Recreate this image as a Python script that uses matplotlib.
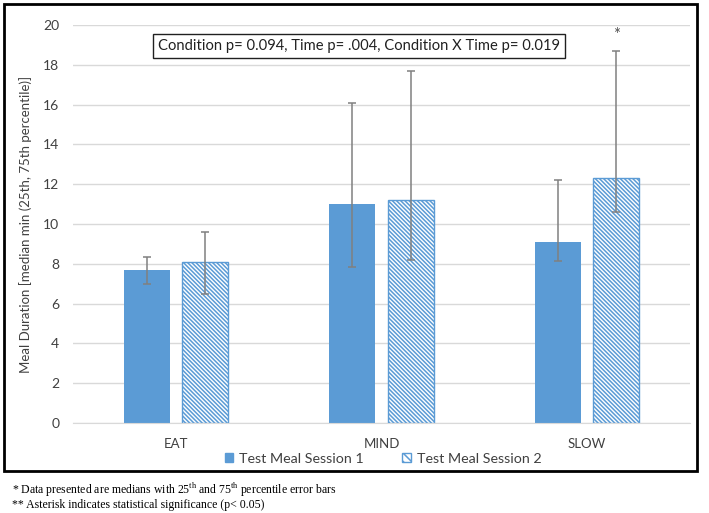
import matplotlib
matplotlib.use("Agg")
import matplotlib.pyplot as plt
import numpy as np
from matplotlib.patches import Rectangle, Patch

plt.rcParams['font.family'] = ['Lato', 'DejaVu Sans']
plt.rcParams['hatch.linewidth'] = 1.1

categories = ["EAT", "MIND", "SLOW"]
series_names = ["Test Meal Session 1", "Test Meal Session 2"]
s1_median = [7.7, 11.0, 9.1]
s1_p25 = [7.0, 7.85, 8.15]
s1_p75 = [8.35, 16.1, 12.2]
s2_median = [8.1, 11.2, 12.3]
s2_p25 = [6.5, 8.2, 10.6]
s2_p75 = [9.6, 17.7, 18.7]
y_ticks = [0, 2, 4, 6, 8, 10, 12, 14, 16, 18, 20]
annotation = "Condition p= 0.094, Time p= .004, Condition X Time p= 0.019"
ylabel = "Meal Duration [median min (25th, 75th percentile)]"

blue = "#5B9BD5"
err_color = "#808080"
hatch = "\\" * 8

fig = plt.figure(figsize=(7.09, 5.13), dpi=100)
ax = fig.add_axes([0.103, 0.1754, 0.870, 0.7759])

x = np.arange(len(categories))
w = 0.224
off = 0.142

s1_med = np.array(s1_median)
s2_med = np.array(s2_median)
err1 = [s1_med - np.array(s1_p25), np.array(s1_p75) - s1_med]
err2 = [s2_med - np.array(s2_p25), np.array(s2_p75) - s2_med]

ax.bar(x - off, s1_med, w, color=blue, zorder=2)
ax.bar(x + off, s2_med, w, facecolor="white", edgecolor=blue, hatch=hatch, linewidth=1.0, zorder=2)
ax.errorbar(x - off, s1_med, yerr=err1, fmt="none", ecolor=err_color, elinewidth=1.1, capsize=3, capthick=1.1, zorder=3)
ax.errorbar(x + off, s2_med, yerr=err2, fmt="none", ecolor=err_color, elinewidth=1.1, capsize=3, capthick=1.1, zorder=3)

ax.text(x[2] + off, 19.1, "*", ha="center", va="bottom", fontsize=12, color="#505050")

ax.set_xlim(-0.5, 2.5)
ax.set_ylim(0, 20)
ax.set_yticks(y_ticks)
ax.set_xticks(x)
ax.set_xticklabels(categories, fontsize=9.5, color="#404040")
ax.tick_params(axis="y", labelsize=10, colors="#404040", length=0, pad=10)
ax.tick_params(axis="x", length=0, pad=11)
ax.grid(axis="y", color="#D9D9D9", linewidth=1.0, zorder=0)
ax.set_axisbelow(True)
for s in ["top", "right", "left"]:
    ax.spines[s].set_visible(False)
ax.spines["bottom"].set_color("#D9D9D9")
ax.set_ylabel(ylabel, fontsize=9.5, color="#404040", labelpad=8)

ax.text(0.4635, 18.96, annotation, transform=ax.get_yaxis_transform(), fontsize=10.6, color="#202020",
        ha="center", va="center", zorder=5,
        bbox=dict(boxstyle="square,pad=0.35", facecolor="white", edgecolor="#202020", linewidth=1.0))

handles = [Patch(facecolor=blue, edgecolor=blue),
           Patch(facecolor="white", edgecolor=blue, hatch="\\\\\\\\")]
fig.legend(handles, series_names, loc="center", bbox_to_anchor=(383 / 709, 1 - 459 / 513), ncol=2,
           frameon=False, fontsize=10.3, handlelength=0.6, handleheight=0.6, handletextpad=0.4,
           columnspacing=2.7, labelcolor="#404040")

fig.add_artist(Rectangle((4 / 709, 1 - 471 / 513), 693 / 709, 467 / 513, transform=fig.transFigure,
                         fill=False, edgecolor="black", linewidth=2.0))

foot_font = ['Liberation Serif', 'DejaVu Serif']
fig.text(12 / 709, 1 - 490 / 513, r"* Data presented are medians with 25$^{\mathregular{th}}$ and 75$^{\mathregular{th}}$ percentile error bars",
         family=foot_font, fontsize=8.5, va="center", ha="left")
fig.text(12 / 709, 1 - 505 / 513, "** Asterisk indicates statistical significance (p< 0.05)",
         family=foot_font, fontsize=8.5, va="center", ha="left")

fig.savefig("out.png", dpi=100)
